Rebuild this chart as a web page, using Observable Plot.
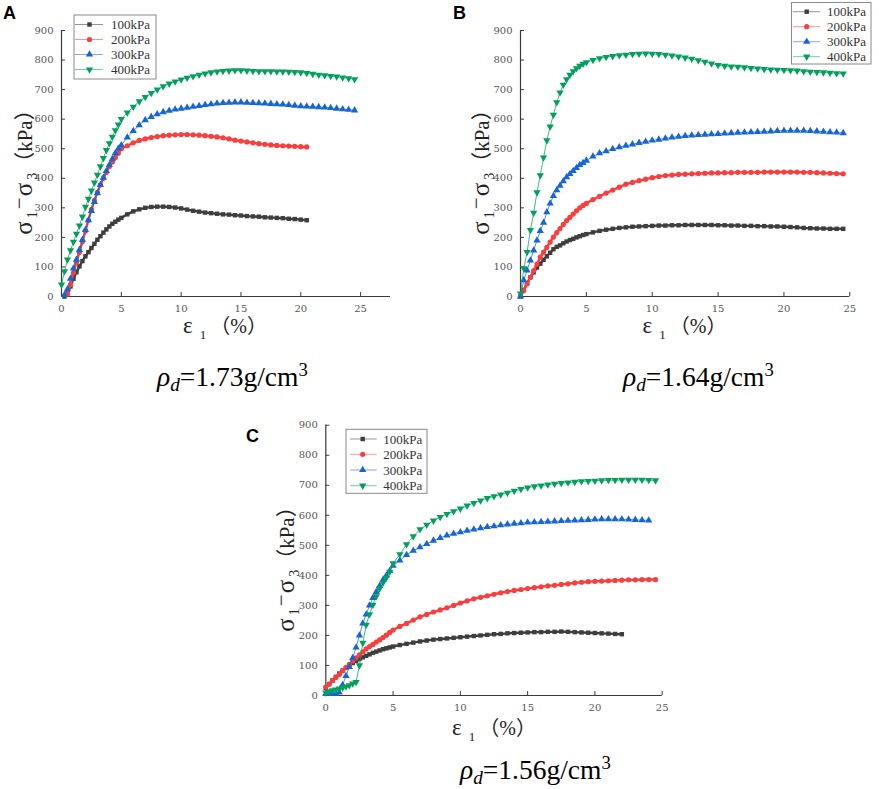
<!DOCTYPE html>
<html><head><meta charset="utf-8">
<script src="https://cdn.jsdelivr.net/npm/d3@7"></script>
<script src="https://cdn.jsdelivr.net/npm/@observablehq/plot@0.6"></script>
<style>
body{margin:0;background:#fff;}
#wrap{position:relative;width:879px;height:789px;overflow:hidden;background:#fff;}
.pl{position:absolute;}
.rho{position:absolute;font-family:"Liberation Serif","Times New Roman",serif;font-size:27.5px;line-height:28px;color:#000;white-space:nowrap;}
.rho sub{font-size:0.7em;vertical-align:-0.28em;line-height:0;}
.rho sup{font-size:0.68em;vertical-align:0.55em;line-height:0;}
.letter{position:absolute;font-family:"Liberation Sans",Arial,sans-serif;font-weight:bold;font-size:18px;line-height:18px;color:#000;}
</style></head><body><div id="wrap"></div>
<script>
// axial strain ε1 (%) grid at which values were read
const strain = [0,0.25,0.5,0.75,1,1.25,1.5,1.75,2,2.25,2.5,2.75,3,3.25,3.5,3.75,4,4.25,4.5,4.75,
 5,5.5,6,6.5,7,7.5,8,8.5,9,9.5,
 10,10.5,11,11.5,12,12.5,13,13.5,14,14.5,
 15,15.5,16,16.5,17,17.5,18,18.5,19,19.5,
 20,20.5,21,21.5,22,22.5,23,23.5,24,24.5];
const seriesNames = ["100kPa","200kPa","300kPa","400kPa"];
const xTicks = [0,5,10,15,20,25];
const yTicks = [0,100,200,300,400,500,600,700,800,900];
const panelLetters = ["A","B","C"];
const densityLabels = ["1.73","1.64","1.56"];

// Panel A (ρd = 1.73)
const A100 = [null,0,12,34,60,82,102,120,136,150,164,178,192,204,216,227,237,246,253,260,
 266,278,288,295,300,303,304,304,303,301,
 298,294,290,287,284,282,280,278,277,275,
 274,272,271,270,268,267,266,265,263,262,
 260,258,null,null,null,null,null,null,null,null];
const A200 = [null,null,8,40,80,115,150,186,222,258,295,325,352,378,400,420,440,455,470,485,
 500,510,520,528,533,538,541,544,546,547,
 548,548,547,546,544,542,540,537,533,529,
 526,523,520,517,515,513,511,510,509,508,
 507,506,null,null,null,null,null,null,null,null];
const A300 = [null,5,25,60,95,125,158,192,225,258,290,320,350,378,402,425,445,465,485,500,
 512,538,560,580,597,608,617,624,629,633,
 636,639,642,645,648,651,653,655,656,657,
 657,656,655,654,653,652,651,650,648,646,
 644,643,642,641,640,638,636,634,632,630];
const A400 = [40,85,125,156,185,212,240,270,303,330,358,385,412,440,468,495,518,540,562,582,
 600,622,642,660,675,688,700,711,720,727,
 734,740,745,750,754,758,761,763,764,765,
 765,764,763,762,762,762,761,761,760,759,
 758,756,753,750,748,746,744,741,738,735];

// Panel B (ρd = 1.64)
const B100 = [0,22,45,65,82,98,111,124,136,148,160,168,173,180,186,191,195,200,204,208,
 211,217,222,226,229,232,234,236,237,238,
 239,240,240,241,241,242,242,242,242,242,
 241,241,240,240,239,239,238,238,237,237,
 236,235,234,232,231,230,230,229,229,229];
const B200 = [0,20,43,65,88,110,133,150,166,184,201,216,230,244,257,268,279,290,300,308,
 315,328,339,350,360,370,380,386,392,397,
 402,406,409,411,413,414,415,416,417,418,
 418,419,419,420,420,420,420,421,421,421,
 421,421,421,420,420,419,418,417,416,415];
const B300 = [0,55,88,122,156,190,222,250,285,315,340,360,375,390,404,415,425,435,445,452,
 460,474,485,492,499,505,510,515,520,524,
 528,531,535,538,541,543,545,547,548,549,
 550,552,553,554,555,556,557,558,559,560,
 561,561,561,561,560,559,558,556,555,553];
const B400 = [10,95,150,225,283,352,410,470,528,575,615,657,690,716,735,750,762,772,780,787,
 792,800,806,810,813,816,818,820,821,822,
 821,820,818,815,812,808,804,799,794,788,
 783,780,778,777,775,773,771,769,768,767,
 766,765,764,762,760,759,758,757,755,754];

// Panel C (ρd = 1.56)
const C100 = [25,38,50,62,73,83,92,100,108,115,121,127,132,137,142,146,150,154,157,160,
 163,168,172,176,180,183,186,188,190,192,
 194,196,198,200,202,204,205,207,208,209,
 210,211,211,212,212,213,212,211,210,209,
 208,207,206,205,204,null,null,null,null,null];
const C200 = [28,38,50,60,70,82,93,104,115,125,135,145,155,163,170,178,185,193,201,210,
 218,230,240,251,262,270,278,285,292,300,
 308,315,322,327,332,337,342,346,350,353,
 356,359,362,365,367,370,372,375,377,379,
 380,381,382,383,384,385,385,386,386,386];
const C300 = [5,5,5,6,10,35,65,95,125,160,200,240,270,300,325,345,365,385,400,415,
 432,450,468,482,494,505,516,525,533,539,
 544,549,553,557,561,564,567,570,572,574,
 576,577,578,579,580,581,582,583,584,585,
 586,587,587,587,587,586,585,584,583,null];
const C400 = [10,14,17,20,23,26,30,34,40,45,100,175,235,270,302,330,356,375,392,412,
 440,470,503,530,553,568,582,594,604,613,
 622,632,641,649,657,663,669,675,681,687,
 692,696,699,702,705,707,709,711,713,714,
 715,716,717,717,718,718,718,718,717,716];

const colors = ["#3e3e3e","#fb3d3d","#1565d4","#02a05c"];
const axisColor = "#3a3a3a";
const triDown = {draw(ctx, size){
  const y = -Math.sqrt(size / (3 * Math.sqrt(3)));
  ctx.moveTo(0, -2 * y);
  ctx.lineTo(-Math.sqrt(3) * y, y);
  ctx.lineTo(Math.sqrt(3) * y, y);
  ctx.closePath();
}};
const symbols = ["square","circle","triangle",triDown];
const d3symbols = [d3.symbolSquare, d3.symbolCircle, d3.symbolTriangle, triDown];
const radii = [2.5,2.6,2.7,2.7];

const wrap = document.getElementById("wrap");
const labelFont = "'Liberation Serif','Noto Sans CJK SC',serif";

function panel(cfg){
  const fw = cfg.width - cfg.ml - cfg.mr, fh = cfg.height - cfg.mt - cfg.mb;
  const marks = [
    Plot.ruleY([0], {stroke: axisColor, strokeWidth: 1.2}),
    Plot.ruleX([0], {stroke: axisColor, strokeWidth: 1.2}),
    Plot.tickX(xTicks, {x: d => d, insetTop: fh - 4, stroke: axisColor}),
    Plot.tickY(yTicks, {y: d => d, insetRight: fw - 4, stroke: axisColor}),
    Plot.axisX(xTicks, {tickSize: 0, tickPadding: 8, fontSize: 10, label: null}),
    Plot.axisY(yTicks, {tickSize: 0, tickPadding: 8, fontSize: 10, label: null})
  ];
  cfg.series.forEach((vals, i) => {
    const data = strain.map((e, j) => ({e, s: vals[j], k: seriesNames[i]})).filter(d => d.s != null);
    marks.push(Plot.line(data, {x: "e", y: "s", stroke: colors[i], strokeWidth: i < 2 ? 2.4 : 1, strokeOpacity: i < 2 ? 1 : 0.75}));
    marks.push(Plot.dot(data, {x: "e", y: "s", symbol: symbols[i], fill: colors[i], r: radii[i]}));
  });
  const svg = Plot.plot({
    width: cfg.width, height: cfg.height,
    marginLeft: cfg.ml, marginRight: cfg.mr, marginTop: cfg.mt, marginBottom: cfg.mb,
    x: {domain: cfg.xDomain},
    y: {domain: [0, 900]},
    style: {fontFamily: "'DejaVu Serif', serif", fontSize: "10px", color: "#555", background: "transparent", overflow: "visible"},
    marks
  });
  const g = d3.select(svg).append("g");
  // y axis label
  const ty = g.append("text")
    .attr("transform", `translate(${cfg.yl[0]},${cfg.yl[1]}) rotate(-90)`)
    .attr("text-anchor", "middle")
    .attr("font-family", labelFont)
    .attr("font-size", 21).attr("fill", "#222");
  ty.append("tspan").attr("font-size", 25).text("σ");
  ty.append("tspan").attr("font-size", 14).attr("dy", 5).attr("dx", 3).text("1");
  ty.append("tspan").attr("dy", -11).attr("dx", 2).text("−");
  ty.append("tspan").attr("font-size", 25).attr("dy", 6).attr("dx", 1).text("σ");
  ty.append("tspan").attr("font-size", 14).attr("dy", 5).attr("dx", 3).text("3");
  ty.append("tspan").attr("dy", -5).attr("dx", 0).text("（kPa）");
  // x axis label
  const tx = g.append("text")
    .attr("x", cfg.xl[0]).attr("y", cfg.xl[1])
    .attr("text-anchor", "middle")
    .attr("font-family", labelFont)
    .attr("font-size", 20).attr("fill", "#222");
  tx.append("tspan").attr("font-size", 23).text("ε");
  tx.append("tspan").attr("font-size", 13).attr("dy", 6).attr("dx", 7).text("1");
  tx.append("tspan").attr("dy", -6).attr("dx", 4).text("（%）");
  // legend
  const L = cfg.legend;
  const lg = g.append("g").attr("text-anchor", "start");
  lg.append("rect").attr("x", L.x0).attr("y", L.y0).attr("width", L.x1 - L.x0).attr("height", L.y1 - L.y0)
    .attr("fill", "#fff").attr("stroke", "#8a8a8a").attr("stroke-width", 1);
  seriesNames.forEach((name, i) => {
    const yy = L.rows[i];
    lg.append("line").attr("x1", L.l0).attr("x2", L.l1).attr("y1", yy).attr("y2", yy)
      .attr("stroke", colors[i]).attr("stroke-opacity", 0.55).attr("stroke-width", 1);
    lg.append("path").attr("transform", `translate(${L.m},${yy})`)
      .attr("d", d3.symbol(d3symbols[i], Math.PI * radii[i] * radii[i])())
      .attr("fill", colors[i]);
    lg.append("text").attr("x", L.t).attr("y", yy).attr("dy", "0.36em")
      .attr("text-anchor", "start")
      .attr("font-family", "'Liberation Serif',serif").attr("font-size", 13).attr("fill", "#333")
      .text(name);
  });
  const div = document.createElement("div");
  div.className = "pl";
  div.style.left = cfg.left + "px";
  div.style.top = cfg.top + "px";
  div.appendChild(svg);
  wrap.appendChild(div);
}

panel({left: 0, top: 0, width: 440, height: 345, ml: 61, mr: 50, mt: 30, mb: 49,
  xDomain: [0, 27.5], series: [A100, A200, A300, A400],
  yl: [32, 167], xl: [225, 333],
  legend: {x0: 74, x1: 156, y0: 15, y1: 79, rows: [24.5, 39.5, 54.5, 69.5], l0: 75, l1: 103, m: 89.5, t: 111}});
panel({left: 440, top: 0, width: 439, height: 345, ml: 80, mr: 29.7, mt: 30, mb: 49,
  xDomain: [0, 25], series: [B100, B200, B300, B400],
  yl: [49, 167], xl: [244.5, 333],
  legend: {x0: 351.5, x1: 431, y0: 2.5, y1: 64, rows: [11.7, 26.7, 41.7, 56.7], l0: 353, l1: 380, m: 366.7, t: 387}});
panel({left: 240, top: 415, width: 440, height: 330, ml: 85.3, mr: 18.3, mt: 9.7, mb: 50,
  xDomain: [0, 25], series: [C100, C200, C300, C400],
  yl: [54, 149], xl: [254, 320],
  legend: {x0: 106, x1: 187, y0: 14.3, y1: 78.3, rows: [24, 39.3, 55, 70.7], l0: 110, l1: 136.7, m: 122.7, t: 143.3}});

// panel letters and density captions
[[3, 4], [453, 4], [246, 427]].forEach(([x, y], i) => {
  const d = document.createElement("div");
  d.className = "letter"; d.style.left = x + "px"; d.style.top = y + "px";
  d.textContent = panelLetters[i];
  wrap.appendChild(d);
});
[[157, 363], [623, 363], [460, 756]].forEach(([x, y], i) => {
  const d = document.createElement("div");
  d.className = "rho"; d.style.left = x + "px"; d.style.top = y + "px";
  d.innerHTML = `<i>ρ</i><sub><i>d</i></sub>=${densityLabels[i]}g/cm<sup>3</sup>`;
  wrap.appendChild(d);
});
</script></body></html>
